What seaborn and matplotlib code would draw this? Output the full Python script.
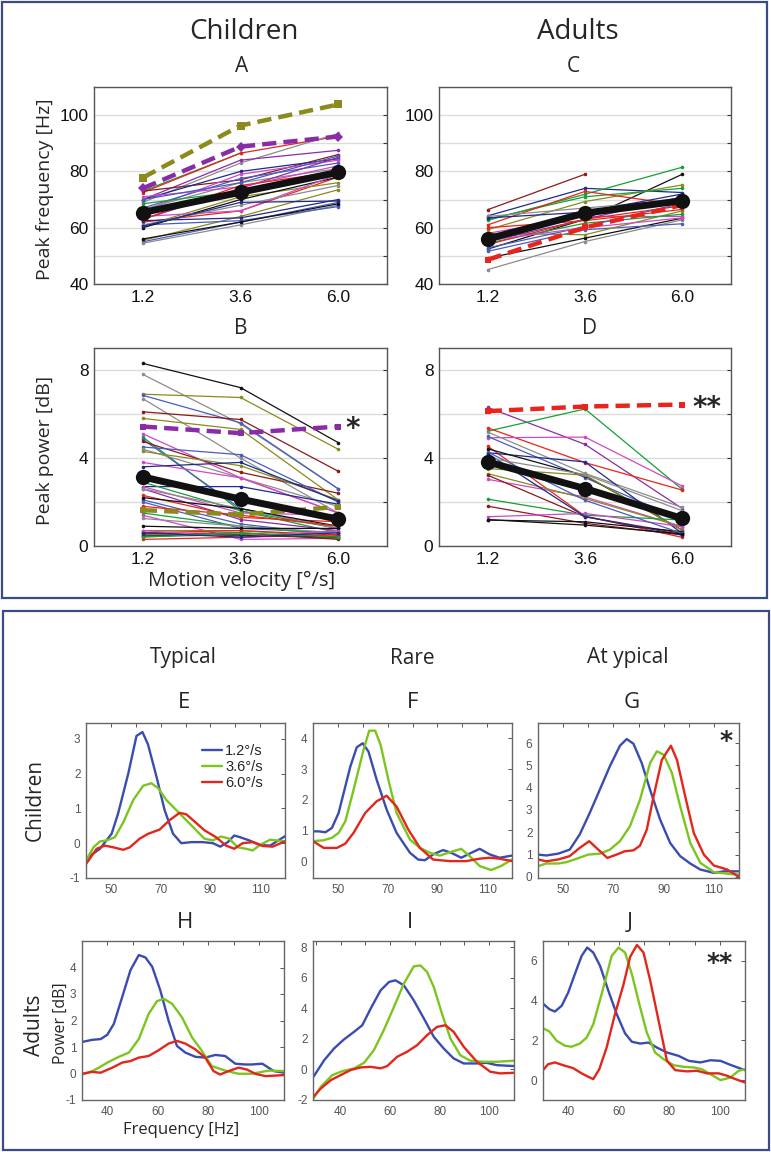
import numpy as np
import pandas as pd
import matplotlib
matplotlib.use('Agg')
import matplotlib.pyplot as plt
import seaborn as sns
from matplotlib.patches import Rectangle

sns.set_theme(style='white')
plt.rcParams['font.family'] = ['Liberation Sans', 'DejaVu Sans']

# ---------------- colours of individual subjects ----------------
GRN, RED, DRD, PUR = '#16a035', '#e8241c', '#8b1a1a', '#8a2ca8'
MAG, OLV, GRY, BLK = '#d048c8', '#8a8a1e', '#8c8c8c', '#111111'
NAV, BLU = '#1f2a8a', '#4a5cc0'
nan = np.nan

velocities = [1.2, 3.6, 6.0]
velocity_labels = ['1.2', '3.6', '6.0']

# ---------------- Panel A: children, peak frequency ----------------
chF_colors = [GRN, RED, GRY, PUR, DRD, NAV, MAG, GRY, BLU, RED, OLV, OLV, NAV, BLU,
              GRY, BLU, BLK, GRN, MAG, PUR, MAG, GRY, NAV, BLK, RED, BLU]
chF_12 = [73.0, 72.5, 69.0, 70.0, 73.0, 70.0, 66.0, 66.5, 67.0, 62.0, 55.5, 60.5, 62.5, 55.0,
          54.5, 61.0, 60.0, 68.5, 64.0, 63.0, 71.0, 61.0, 60.5, 56.0, 63.0, 70.0]
chF_36 = [86.5, 86.5, 83.0, 84.0, 77.0, 80.0, 79.0, 76.0, 77.5, 66.0, 64.0, 71.0, 63.5, 62.0,
          61.0, 62.5, 70.0, 73.0, 66.0, 74.0, 74.5, 68.0, 69.0, 62.0, 75.0, 76.0]
chF_60 = [nan, 92.5, 93.5, 87.5, 86.0, 84.5, 84.0, 81.0, 83.0, 78.0, 73.5, 76.0, 70.0, 69.0,
          68.0, 67.5, 78.0, 79.5, 79.0, 85.0, 82.0, 75.0, 69.5, 68.5, 80.0, 85.5]
chF_olive = [77.8, 96.3, 103.8]
chF_purple = [74.0, 88.8, 92.4]
chF_mean = [65.4, 72.6, 79.7]

# ---------------- Panel C: adults, peak frequency ----------------
adF_colors = [DRD, NAV, GRN, BLK, OLV, GRN, GRY, BLK, BLU, RED, MAG, OLV, GRN, PUR,
              GRY, RED, BLU, NAV, RED, MAG]
adF_12 = [66.4, 64.2, 62.6, 52.4, 59.3, 63.0, 45.1, 49.2, 51.6, 61.0, 58.0, 58.0, 54.5, 55.0,
          64.0, 54.0, 52.8, 63.5, 60.0, 55.5]
adF_36 = [79.0, 74.0, 71.9, 63.0, 69.3, 71.0, 55.1, 56.3, 59.3, 72.9, 64.0, 57.5, 61.6, 63.0,
          67.0, 63.0, 60.4, 65.5, 62.5, 60.0]
adF_60 = [nan, 72.5, 81.5, 79.0, 75.2, 74.0, 62.8, 63.4, 61.4, 68.0, 64.0, 66.0, 64.8, 71.0,
          70.0, 67.8, 68.7, 72.0, 66.5, 63.5]
adF_red = [48.6, 60.1, 68.1]
adF_mean = [56.0, 65.2, 69.6]

# ---------------- Panel B: children, peak power ----------------
chP_colors = [BLK, GRY, OLV, BLU, GRY, DRD, OLV, MAG, GRN, BLU, DRD, BLU, GRY, OLV, MAG,
              NAV, NAV, GRN, MAG, PUR, RED, BLU, BLU, GRY, BLK, RED, GRN, MAG, GRY, BLK,
              OLV, RED, GRN, RED, BLK, DRD, MAG, GRN, NAV]
chP_12 = [8.3, 7.8, 6.9, 6.85, 6.7, 6.1, 5.8, 5.1, 4.95, 4.85, 4.75, 4.5, 4.4, 4.3, 3.8,
          3.6, 2.7, 2.9, 2.7, 2.6, 2.3, 2.1, 2.0, 2.6, 2.2, 1.8, 1.5, 1.4, 1.25, 0.9,
          0.7, 0.6, 0.5, 0.3, 0.45, 0.55, 0.7, 0.4, 0.6]
chP_36 = [7.2, 5.55, 6.75, 5.6, 4.0, 5.75, 5.3, 3.1, 1.6, 1.7, 3.35, 4.15, 3.1, 3.65, 3.1,
          3.8, 2.7, 1.6, 1.5, 1.2, 1.3, 1.0, 0.8, 1.7, 1.7, 1.4, 0.9, 0.3, 0.9, 0.8,
          0.7, 0.7, 0.5, 0.4, 0.5, 0.6, 0.4, 0.6, 0.4]
chP_60 = [4.7, 2.6, 4.4, 2.6, 1.5, 3.4, 2.1, 1.5, 0.6, 0.8, 2.4, 2.0, 1.8, 2.1, 1.5,
          2.05, 1.9, 0.8, 1.4, 0.7, 1.1, 0.5, 0.6, 0.8, 0.9, 0.9, 0.5, 0.35, 0.6, 0.8,
          0.4, 0.5, 0.35, 0.5, 0.4, 0.3, 0.7, 0.4, 0.6]
chP_purple = [5.43, 5.13, 5.43]
chP_olive = [1.63, 1.43, 1.78]
chP_mean = [3.14, 2.13, 1.22]

# ---------------- Panel D: adults, peak power ----------------
adP_colors = [PUR, GRN, RED, MAG, GRY, BLU, RED, NAV, BLK, OLV, MAG, OLV, DRD, GRN,
              DRD, MAG, BLK, BLU, NAV, GRY, BLK]
adP_12 = [6.3, 5.22, 5.37, 4.92, 5.18, 4.98, 4.54, 4.24, 4.42, 3.52, 3.03, 3.29, 3.22, 2.13,
          1.81, 1.33, 1.18, 4.27, 4.2, 4.0, 1.2]
adP_36 = [4.62, 6.23, 3.79, 4.95, 3.3, 3.11, 1.36, 3.82, 3.2, 3.22, 2.23, 2.16, 1.33, 1.4,
          1.03, 1.48, 1.1, 2.08, 1.33, 3.25, 0.95]
adP_60 = [1.7, 2.57, 2.54, 2.72, 1.75, 1.18, 0.39, 0.57, 0.72, 0.72, 0.88, 0.87, 0.57, 1.18,
          0.5, 0.88, 0.65, 0.57, 0.5, 1.6, 0.55]
adP_red = [6.13, 6.34, 6.43]
adP_mean = [3.82, 2.61, 1.25]

# ---------------- Spectra (Power [dB] vs Frequency [Hz]) ----------------
E_blue_f = [40, 45.6, 50.3, 52.9, 57, 60.3, 62.7, 64.9, 68.3, 71.6, 75, 78.3, 82.3, 87, 91, 94, 97, 99.6, 102, 105.6, 110, 114, 120]
E_blue_v = [-0.45, -0.16, 0.27, 0.85, 2.0, 3.08, 3.19, 2.84, 1.92, 0.95, 0.27, 0.0, 0.03, 0.03, 0.0, -0.1, 0.03, 0.22, 0.17, 0.08, -0.05, -0.07, 0.2]
E_green_f = [40, 43, 45.6, 48.3, 51.6, 55, 59, 63, 66.3, 69, 72.3, 76.3, 80.3, 84.3, 87.6, 91, 94.3, 97.6, 101, 104.3, 107, 110, 114, 120]
E_green_v = [-0.5, -0.12, 0.05, 0.08, 0.17, 0.6, 1.24, 1.65, 1.72, 1.58, 1.24, 0.95, 0.66, 0.37, 0.13, 0.08, 0.19, 0.13, -0.12, -0.16, -0.21, -0.05, 0.1, 0.05]
E_red_f = [40, 44.3, 47.6, 51, 55, 57.6, 61.6, 65, 69.6, 73.6, 77.6, 80.3, 84.3, 87.6, 92.3, 96.3, 99.6, 103, 107, 111, 115, 120]
E_red_v = [-0.6, -0.16, -0.07, -0.12, -0.19, -0.12, 0.13, 0.27, 0.39, 0.66, 0.87, 0.83, 0.58, 0.37, 0.17, -0.07, -0.16, 0.0, 0.03, -0.08, -0.1, 0.05]

F_blue_f = [40, 42.3, 45, 47.6, 50.3, 55, 57.6, 60, 62.3, 65.6, 69.6, 73.6, 79, 82.3, 85, 88.3, 92.3, 95.6, 99.6, 103.6, 107, 111, 115, 120]
F_blue_v = [0.97, 0.97, 0.94, 1.08, 1.57, 3.08, 3.71, 3.84, 3.57, 2.65, 1.68, 0.92, 0.27, 0.05, 0.03, 0.22, 0.36, 0.27, 0.11, 0.27, 0.4, 0.22, 0.11, 0.18]
F_green_f = [40, 44.3, 47.6, 50.3, 53, 56.3, 60.3, 62.6, 65, 67.2, 70.3, 73.6, 79, 83, 87, 91, 95, 99.6, 103, 107, 111.6, 115.6, 120]
F_green_v = [0.65, 0.68, 0.76, 0.92, 1.3, 2.32, 3.62, 4.25, 4.25, 3.78, 2.65, 1.57, 0.7, 0.43, 0.27, 0.18, 0.29, 0.4, 0.16, -0.16, -0.29, -0.16, 0.05]
F_red_f = [40, 44.3, 49.6, 53, 56.3, 61, 65.6, 69.6, 73.6, 78.3, 83, 88.3, 95, 101.6, 107, 111, 115, 120]
F_red_v = [0.65, 0.43, 0.43, 0.57, 0.92, 1.57, 1.95, 2.13, 1.78, 1.03, 0.43, 0.05, 0.0, 0.0, 0.08, 0.11, 0.08, 0.0]

G_blue_f = [40, 43.3, 48, 52.6, 56.6, 60.6, 64.6, 68.6, 72.6, 75.3, 78, 81.3, 84.6, 88.6, 92.6, 96.6, 100.6, 104.6, 110, 114, 120]
G_blue_v = [1.0, 0.96, 1.04, 1.22, 1.9, 2.87, 3.91, 4.96, 5.88, 6.18, 5.97, 5.1, 3.91, 2.57, 1.52, 0.93, 0.6, 0.33, 0.18, 0.25, 0.25]
G_green_f = [40, 43.3, 48, 51.3, 55.3, 60, 64.6, 68.6, 72.6, 76.6, 80.6, 84.6, 87.3, 90, 93.3, 96.6, 100.6, 104.6, 110, 116.6, 120]
G_green_v = [0.48, 0.6, 0.6, 0.66, 0.81, 1.0, 1.04, 1.22, 1.6, 2.27, 3.46, 5.1, 5.63, 5.48, 4.66, 3.16, 1.52, 0.63, 0.21, 0.13, 0.1]
G_red_f = [40, 43.3, 48, 52.6, 56.6, 60.4, 64, 67.6, 71.3, 74.6, 78, 80.6, 83.3, 86, 89.3, 92.9, 95.3, 98.6, 102, 106, 110, 115.3, 120]
G_red_v = [0.78, 0.7, 0.78, 0.93, 1.3, 1.6, 1.22, 0.85, 1.0, 1.15, 1.19, 1.4, 2.12, 3.61, 5.25, 5.88, 5.25, 3.61, 1.97, 1.0, 0.51, 0.33, 0.0]

H_blue_f = [30, 34, 37.4, 40, 42.6, 45.9, 49.2, 52.5, 55.1, 57.8, 61, 64.3, 67.6, 70.9, 74.9, 78.8, 82.8, 86.7, 90.7, 94.6, 97.2, 101.4, 106, 110]
H_blue_v = [1.19, 1.27, 1.3, 1.46, 1.87, 2.88, 3.9, 4.47, 4.38, 4.03, 3.14, 1.99, 1.04, 0.79, 0.63, 0.6, 0.7, 0.66, 0.37, 0.34, 0.34, 0.37, 0.09, 0.03]
H_green_f = [30, 34, 36.7, 40, 44.6, 48.6, 52.5, 56.4, 59.7, 62.4, 65.7, 69.6, 73.6, 77.5, 81.4, 86.7, 92, 97.2, 104, 110]
H_green_v = [-0.04, 0.09, 0.22, 0.41, 0.63, 0.79, 1.3, 2.25, 2.73, 2.82, 2.63, 2.12, 1.36, 0.85, 0.28, 0.11, -0.01, -0.01, 0.11, 0.09]
H_red_f = [30, 34, 37.4, 42, 45.9, 49.2, 52.5, 56.4, 60.4, 64.3, 67.6, 70.9, 74.9, 78.8, 82.1, 84.7, 88, 92, 95.3, 98.6, 102.7, 110]
H_red_v = [-0.01, 0.06, 0.03, 0.22, 0.41, 0.47, 0.6, 0.66, 0.88, 1.13, 1.23, 1.13, 0.91, 0.6, 0.09, -0.04, 0.09, 0.22, 0.15, -0.01, -0.1, -0.06]

I_blue_f = [29, 33.3, 37.3, 41.3, 45.4, 48.7, 52.1, 56.1, 59.5, 62.1, 65.5, 69.5, 73.6, 77.6, 81.6, 85.6, 89.7, 95, 99, 103, 110]
I_blue_v = [-0.48, 0.6, 1.37, 1.96, 2.46, 2.89, 3.98, 5.17, 5.72, 5.83, 5.5, 4.52, 3.33, 2.13, 1.37, 0.72, 0.39, 0.39, 0.43, 0.28, 0.22]
I_green_f = [29, 32, 36.6, 40.7, 45.4, 49.4, 53.4, 57.4, 61.5, 65.5, 69.5, 72.2, 74.9, 77.6, 80.9, 84.3, 88.3, 92.3, 97.7, 103, 110]
I_green_v = [-1.89, -1.13, -0.37, -0.11, 0.07, 0.43, 1.26, 2.57, 4.09, 5.61, 6.74, 6.8, 6.37, 5.39, 3.65, 2.02, 0.93, 0.57, 0.5, 0.5, 0.57]
I_red_f = [29, 32, 36, 40, 44, 48, 52.1, 56.1, 58.8, 62.8, 66.8, 70.9, 74.9, 78.9, 82.3, 85.6, 89.7, 95, 100.4, 104.4, 110]
I_red_v = [-1.78, -1.24, -0.7, -0.37, -0.04, 0.13, 0.17, 0.07, 0.22, 0.83, 1.15, 1.59, 2.24, 2.78, 2.89, 2.46, 1.48, 0.5, -0.15, -0.26, -0.22]

J_blue_f = [30, 32.5, 34.7, 37.4, 40, 42.6, 45.3, 47.5, 49.9, 52.6, 55.9, 59.2, 62.5, 65.2, 68.5, 71.8, 75.1, 79.1, 83.7, 87.7, 92.3, 96.3, 100.3, 104.2, 110]
J_blue_v = [3.85, 3.57, 3.45, 3.74, 4.41, 5.33, 6.25, 6.67, 6.42, 5.75, 4.49, 3.32, 2.35, 1.93, 1.84, 1.89, 1.64, 1.39, 1.22, 0.97, 0.89, 1.0, 0.97, 0.77, 0.5]
J_green_f = [30, 32.5, 35.4, 38.7, 41.3, 44.6, 47.3, 49.9, 53.2, 57.2, 59.9, 62.5, 65.2, 68.5, 71.1, 74.4, 77.7, 81.7, 85.6, 89.6, 92.9, 96.3, 100.3, 104.2, 107.5, 110]
J_green_v = [2.61, 2.45, 1.98, 1.73, 1.68, 1.84, 2.14, 2.81, 4.32, 6.25, 6.67, 6.42, 5.33, 3.65, 2.4, 1.39, 1.06, 0.75, 0.67, 0.64, 0.55, 0.3, 0.0, 0.13, 0.47, 0.55]
J_red_f = [30, 32, 34.7, 38, 42, 45.3, 47.9, 49.9, 52.3, 55.2, 58.5, 61.9, 64.5, 67.2, 69.8, 72.5, 75.8, 79.1, 82.4, 87, 91, 95, 99.6, 102.9, 106.2, 110]
J_red_v = [0.5, 0.8, 0.89, 0.75, 0.6, 0.34, 0.17, 0.05, 0.55, 1.64, 3.32, 4.82, 6.2, 6.8, 6.42, 4.99, 2.98, 0.97, 0.5, 0.44, 0.47, 0.34, 0.34, 0.22, 0.05, -0.12]

speed_labels = ['1.2°/s', '3.6°/s', '6.0°/s']
speed_colors = ['#3b4cb0', '#7cc520', '#e3261b']

# ---------------- figure ----------------
W, H = 771, 1152
fig = plt.figure(figsize=(W / 100, H / 100), dpi=100)
fig.patch.set_facecolor('white')
TITLE_FONT = ['Open Sans', 'DejaVu Sans']


def ax_px(x0, y0, x1, y1):
    return fig.add_axes([x0 / W, 1 - y1 / H, (x1 - x0) / W, (y1 - y0) / H])


def ftext(x, y, s, **kw):
    kw.setdefault('family', TITLE_FONT)
    fig.text(x / W, 1 - y / H, s, ha='center', va='center', **kw)


def draw_subjects(ax, v12, v36, v60, colors):
    for i, c in enumerate(colors):
        df = pd.DataFrame({'v': velocities, 'p': [v12[i], v36[i], v60[i]]}).dropna()
        sns.lineplot(data=df, x='v', y='p', ax=ax, color=c, lw=0.9, marker='o',
                     markersize=2.6, markeredgewidth=0, legend=False)


def draw_special(ax, vals, color, marker, ms, lw, dashed=True):
    df = pd.DataFrame({'v': velocities, 'p': vals})
    kw = dict(linestyle=(0, (3.2, 1.6))) if dashed else {}
    sns.lineplot(data=df, x='v', y='p', ax=ax, color=color, lw=lw, marker=marker,
                 markersize=ms, markeredgewidth=0, legend=False, **kw)


def style_top(ax, ylim, yticks, ylabels):
    ax.set_xlim(0, 7.2)
    ax.set_ylim(*ylim)
    ax.set_xticks(velocities)
    ax.set_xticklabels(velocity_labels, fontsize=12.5)
    ax.set_yticks(yticks)
    ax.set_yticklabels(ylabels, fontsize=12.5)
    ax.grid(axis='y', color='#dcdcdc', lw=1.0)
    ax.grid(axis='x', visible=False)
    ax.set_axisbelow(True)
    ax.tick_params(axis='both', direction='in', length=3, width=0.8, color='#333', pad=4,
                   labelcolor='#111')
    ax.tick_params(axis='y', right=True, left=False)
    ax.tick_params(axis='x', bottom=False)
    for s in ax.spines.values():
        s.set_color('#555')
        s.set_linewidth(1.0)
    ax.set_xlabel('')
    ax.set_ylabel('')


# Panel A
axA = ax_px(94, 87, 387, 284)
draw_subjects(axA, chF_12, chF_36, chF_60, chF_colors)
draw_special(axA, chF_olive, OLV, 's', 6, 3.2)
draw_special(axA, chF_purple, PUR, 'D', 5, 3.2)
draw_special(axA, chF_mean, BLK, 'o', 11, 5.0, dashed=False)
style_top(axA, (40, 110), [40, 50, 60, 70, 80, 90, 100, 110], ['40', '', '60', '', '80', '', '100', ''])

# Panel C
axC = ax_px(439, 87, 731, 284)
draw_subjects(axC, adF_12, adF_36, adF_60, adF_colors)
draw_special(axC, adF_red, RED, 's', 5, 3.2)
draw_special(axC, adF_mean, BLK, 'o', 11, 5.0, dashed=False)
style_top(axC, (40, 110), [40, 50, 60, 70, 80, 90, 100, 110], ['40', '', '60', '', '80', '', '100', ''])

# Panel B
axB = ax_px(94, 348, 387, 546)
draw_subjects(axB, chP_12, chP_36, chP_60, chP_colors)
draw_special(axB, chP_olive, OLV, 's', 5, 3.2)
draw_special(axB, chP_purple, PUR, 's', 5, 3.2)
draw_special(axB, chP_mean, BLK, 'o', 11, 5.0, dashed=False)
style_top(axB, (0, 9), [0, 2, 4, 6, 8], ['0', '', '4', '', '8'])

# Panel D
axD = ax_px(439, 348, 731, 546)
draw_subjects(axD, adP_12, adP_36, adP_60, adP_colors)
draw_special(axD, adP_red, RED, 's', 5, 3.2)
draw_special(axD, adP_mean, BLK, 'o', 11, 5.0, dashed=False)
style_top(axD, (0, 9), [0, 2, 4, 6, 8], ['0', '', '4', '', '8'])

# top texts
ftext(244, 32, 'Children', fontsize=20)
ftext(578, 32, 'Adults', fontsize=20)
ftext(242, 66, 'A', fontsize=15)
ftext(573, 66, 'C', fontsize=15)
ftext(241, 328, 'B', fontsize=15)
ftext(589, 328, 'D', fontsize=15)
ftext(45, 189, 'Peak frequency [Hz]', fontsize=14, rotation=90)
ftext(45, 450, 'Peak power [dB]', fontsize=14, rotation=90)
ftext(242, 581, 'Motion velocity [°/s]', fontsize=14.5)
ftext(353, 429, '*', fontsize=20, family=['DejaVu Sans'], fontweight='bold')
ftext(707, 408, '**', fontsize=20, family=['DejaVu Sans'], fontweight='bold')


# ---------------- spectra ----------------
def draw_spectra(ax, curves):
    for (f, v), lab, col in zip(curves, speed_labels, speed_colors):
        sns.lineplot(x=f, y=v, ax=ax, color=col, lw=1.7, label=lab, sort=False)


def style_spec(ax, xlim, ylim, xticks, xlabels, yticks, ylabels):
    ax.set_xlim(*xlim)
    ax.set_ylim(*ylim)
    ax.set_xticks(xticks)
    ax.set_xticklabels(xlabels)
    ax.set_yticks(yticks)
    ax.set_yticklabels(ylabels)
    ax.grid(False)
    ax.tick_params(axis='both', direction='in', length=3, width=0.7, color='#555',
                   labelsize=8.5, labelcolor='#555', top=True, right=True, pad=4)
    for s in ax.spines.values():
        s.set_color('#666')
        s.set_linewidth(1.0)
    ax.set_xlabel('')
    ax.set_ylabel('')


xt_top = list(range(40, 121, 10))
xl_top = ['' if t % 20 == 0 else str(t) for t in xt_top]
xt_bot = list(range(30, 111, 10))
xl_bot = [str(t) if t % 20 == 0 else '' for t in xt_bot]

axE = ax_px(86, 723, 285, 878)
draw_spectra(axE, [(E_blue_f, E_blue_v), (E_green_f, E_green_v), (E_red_f, E_red_v)])
style_spec(axE, (40, 120), (-1, 3.45), xt_top, xl_top, [-1, 0, 1, 2, 3], ['-1', '0', '1', '2', '3'])
axE.legend(loc='upper right', frameon=False, fontsize=10.5, handlelength=1.35,
           handletextpad=0.25, labelspacing=0.15, borderaxespad=0.7,
           bbox_to_anchor=(0.97, 0.97))

axF = ax_px(313, 723, 512, 878)
draw_spectra(axF, [(F_blue_f, F_blue_v), (F_green_f, F_green_v), (F_red_f, F_red_v)])
style_spec(axF, (40, 120), (-0.55, 4.5), xt_top, xl_top, [0, 1, 2, 3, 4], ['0', '1', '2', '3', '4'])
axF.get_legend().remove()

axG = ax_px(538, 723, 739, 878)
draw_spectra(axG, [(G_blue_f, G_blue_v), (G_green_f, G_green_v), (G_red_f, G_red_v)])
style_spec(axG, (40, 120), (-0.05, 6.9), xt_top, xl_top, [0, 1, 2, 3, 4, 5, 6], ['0', '1', '2', '3', '4', '5', '6'])
axG.get_legend().remove()

axH = ax_px(82, 941, 284, 1100)
draw_spectra(axH, [(H_blue_f, H_blue_v), (H_green_f, H_green_v), (H_red_f, H_red_v)])
style_spec(axH, (30, 110), (-1, 5), xt_bot, xl_bot, [-1, 0, 1, 2, 3, 4], ['-1', '0', '1', '2', '3', '4'])
axH.get_legend().remove()

axI = ax_px(313, 941, 514, 1100)
draw_spectra(axI, [(I_blue_f, I_blue_v), (I_green_f, I_green_v), (I_red_f, I_red_v)])
style_spec(axI, (28.8, 110), (-2, 8.4), xt_bot, xl_bot, [-2, 0, 2, 4, 6, 8], ['-2', '0', '2', '4', '6', '8'])
axI.get_legend().remove()

axJ = ax_px(543, 941, 745, 1100)
draw_spectra(axJ, [(J_blue_f, J_blue_v), (J_green_f, J_green_v), (J_red_f, J_red_v)])
style_spec(axJ, (30, 110), (-1, 7), xt_bot, xl_bot, [0, 2, 4, 6], ['0', '2', '4', '6'])
axJ.get_legend().remove()

# bottom texts
ftext(183, 658, 'Typical', fontsize=15)
ftext(412, 658, 'Rare', fontsize=15)
ftext(628, 658, 'At ypical', fontsize=15)
ftext(184, 703, 'E', fontsize=16)
ftext(413, 703, 'F', fontsize=16)
ftext(632, 703, 'G', fontsize=16)
ftext(185, 923, 'H', fontsize=16)
ftext(410, 923, 'I', fontsize=16)
ftext(630, 923, 'J', fontsize=16)
ftext(35, 800, 'Children', fontsize=15, rotation=90)
ftext(35, 1025, 'Adults', fontsize=15, rotation=90)
ftext(61, 1023, 'Power [dB]', fontsize=11.5, rotation=90)
ftext(181, 1130, 'Frequency [Hz]', fontsize=12)
ftext(726, 741, '*', fontsize=18, family=['DejaVu Sans'], fontweight='bold')
ftext(720, 963, '**', fontsize=18, family=['DejaVu Sans'], fontweight='bold')

# frames around the two figure parts
for (x0, y0, x1, y1) in [(1.5, 1.5, 767, 598), (2.5, 611, 769, 1150)]:
    fig.add_artist(Rectangle((x0 / W, 1 - y1 / H), (x1 - x0) / W, (y1 - y0) / H,
                             transform=fig.transFigure, fill=False,
                             edgecolor='#3b4a88', linewidth=1.6))

fig.savefig('out.png', dpi=100, facecolor='white')
